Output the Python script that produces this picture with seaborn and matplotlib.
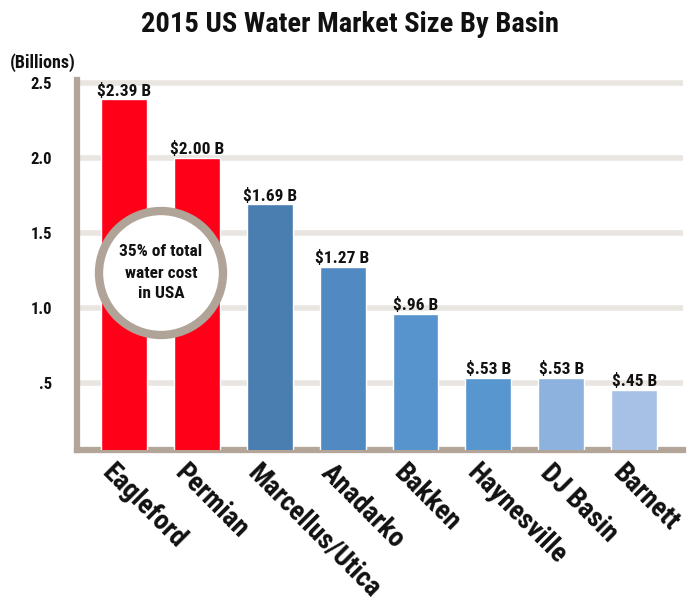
import matplotlib
matplotlib.use("Agg")
import matplotlib.pyplot as plt
from matplotlib import font_manager
from matplotlib.patches import Circle
import matplotlib.transforms as mtrans
import seaborn as sns
import pandas as pd

basins = ["Eagleford", "Permian", "Marcellus/Utica", "Anadarko", "Bakken",
          "Haynesville", "DJ Basin", "Barnett"]
values = [2.39, 2.00, 1.69, 1.27, 0.96, 0.53, 0.53, 0.45]
value_labels = ["$2.39 B", "$2.00 B", "$1.69 B", "$1.27 B", "$.96 B",
                "$.53 B", "$.53 B", "$.45 B"]
colors = ["#FF0019", "#FF0019", "#4A7DB0", "#5189C2", "#5794CD",
          "#5896CF", "#8DB2DD", "#A6C1E5"]
yticks = [0.5, 1.0, 1.5, 2.0, 2.5]
ytick_labels = [".5", "1.0", "1.5", "2.0", "2.5"]
title = "2015 US Water Market Size By Basin"
unit_label = "(Billions)"
note = "35% of total\nwater cost\nin USA"

sns.set_theme(style="white")
names = {f.name for f in font_manager.fontManager.ttflist}
fam = [f for f in ["Roboto Condensed", "Liberation Sans Narrow", "DejaVu Sans Condensed"] if f in names]
fam = fam + ["DejaVu Sans"]
plt.rcParams["font.family"] = fam

df = pd.DataFrame({"basin": basins, "value": values})

fig = plt.figure(figsize=(7, 6.05), dpi=100)
ax = fig.add_axes([0.11, 0.256, 0.866, 0.612])

sns.barplot(data=df, x="basin", y="value", hue="basin", palette=colors,
            legend=False, width=0.63, ax=ax, zorder=3, saturation=1)

for p, lab in zip(ax.patches, value_labels):
    ax.text(p.get_x() + p.get_width() / 2, p.get_height() + 0.005, lab,
            ha="center", va="bottom", fontsize=12.5, fontweight="bold",
            color="#111111", zorder=5)

ax.set_ylim(0.05, 2.52)
ax.set_xlim(-0.64, 7.67)
ax.set_yticks(yticks)
ax.set_yticklabels(ytick_labels, fontsize=12, fontweight="bold", color="#111111")
ax.yaxis.grid(True, color="#E9E5E1", linewidth=4, zorder=0)
ax.set_axisbelow(True)
ax.tick_params(axis="both", length=0)
ax.tick_params(axis="y", pad=18)
ax.set_xlabel("")
ax.set_ylabel("")

ax.set_xticks(range(len(basins)))
ax.set_xticklabels(basins, rotation=-45, ha="left", va="top",
                   rotation_mode="anchor", fontsize=20, fontweight="bold",
                   color="#111111")
offset = mtrans.ScaledTranslation(-0.08, -0.04, fig.dpi_scale_trans)
for lbl in ax.get_xticklabels():
    lbl.set_transform(lbl.get_transform() + offset)

for s in ["top", "right"]:
    ax.spines[s].set_visible(False)
for s in ["left", "bottom"]:
    ax.spines[s].set_color("#B3A597")
    ax.spines[s].set_linewidth(4.5)

fig.text(0.5, 0.96, title, ha="center", va="center", fontsize=20.5,
         fontweight="bold", color="#111111")
fig.text(0.014, 0.897, unit_label, ha="left", va="center", fontsize=13,
         fontweight="bold", color="#111111")

circ = Circle((1.61, 3.32), 0.62, transform=fig.dpi_scale_trans,
              facecolor="white", edgecolor="#B0A397", linewidth=6, zorder=4)
fig.add_artist(circ)
fig.text(1.61 / 7, 3.32 / 6.05, note, ha="center", va="center", fontsize=12.5,
         fontweight="bold", color="#111111", linespacing=1.5, zorder=6)

fig.savefig("out.png", dpi=100)
